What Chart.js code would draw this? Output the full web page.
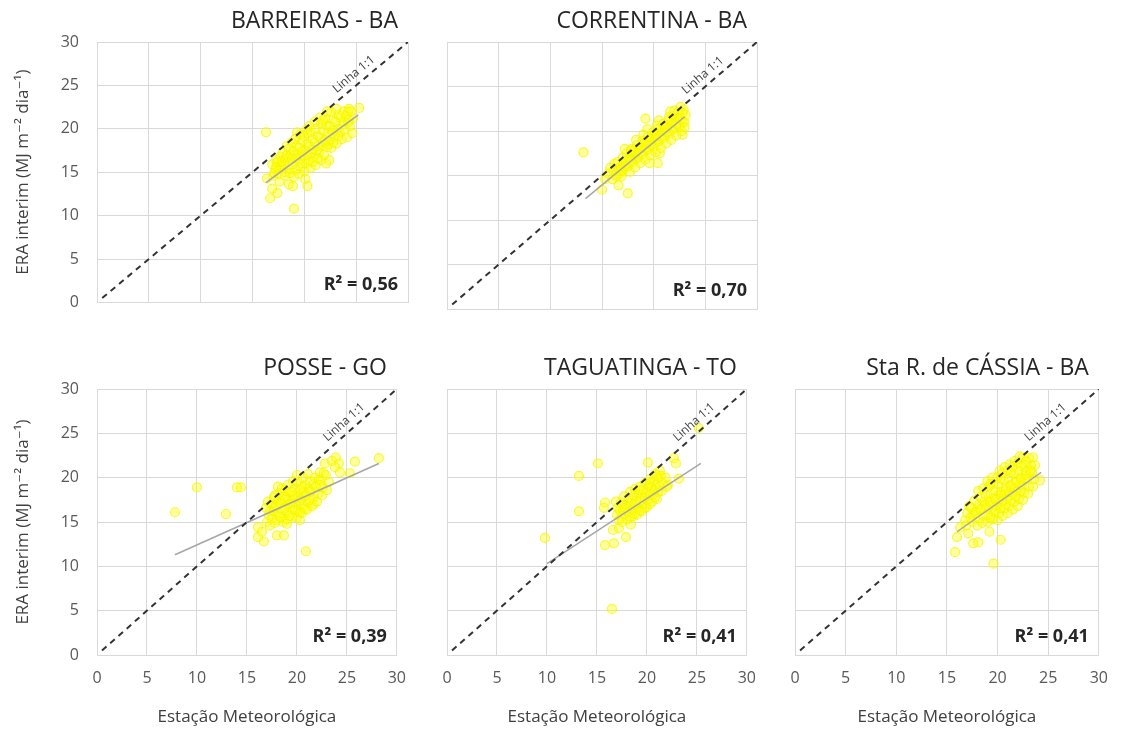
<!DOCTYPE html>
<html>
<head>
<meta charset="utf-8">
<script src="https://cdn.jsdelivr.net/npm/chart.js@4.4.1/dist/chart.umd.min.js"></script>
<style>
  html, body { margin: 0; padding: 0; background: #fff; }
  #wrap { position: relative; width: 1122px; height: 729px; overflow: hidden; background: #fff; }
  #wrap canvas { position: absolute; }
</style>
</head>
<body>
<div id="wrap"></div>
<script>
// estações e R²
var stations = ["BARREIRAS - BA", "CORRENTINA - BA", "POSSE - GO", "TAGUATINGA - TO", "Sta R. de CÁSSIA - BA"];
var r2Labels = ["0,56", "0,70", "0,39", "0,41", "0,41"];
var axisTicks = [0, 5, 10, 15, 20, 25, 30];
var lineOneToOne = [0.5, 30];

// linhas de tendência [x, y] início e fim
var trendBarreiras = [[16.3, 13.8], [25.2, 21.6]];
var trendCorrentina = [[13.4, 12.4], [23.0, 21.6]];
var trendPosse = [[7.8, 11.3], [28.2, 21.6]];
var trendTaguatinga = [[10.0, 10.3], [25.4, 21.6]];
var trendCassia = [[16.0, 13.9], [24.3, 20.6]];

// pontos [estação, ERA interim]
var barreiras = [
  [16.3,19.6],[19.0,10.8],[16.7,12.0],[17.4,12.6],[18.9,13.4],[20.3,13.4],[16.4,14.3],[16.9,13.1],[22.4,16.4],[25.3,22.4],[24.2,22.0],[17.6,13.9],[18.5,13.6],
  [17.0,14.6],[17.2,15.3],[16.9,15.9],[17.3,16.4],[17.1,14.9],
  [17.6,15.4],[17.4,16.1],[17.7,16.8],[17.5,14.8],[17.8,15.7],
  [18.1,15.0],[18.0,15.9],[18.2,16.6],[17.9,17.3],[18.3,18.0],[18.1,14.6],
  [18.6,15.4],[18.4,16.2],[18.7,17.0],[18.5,17.7],[18.8,18.4],[18.6,14.9],
  [19.1,15.2],[18.9,15.9],[19.2,16.6],[19.0,17.4],[19.3,18.1],[19.1,18.8],[19.0,14.5],
  [19.6,15.6],[19.4,16.3],[19.7,17.0],[19.5,17.8],[19.8,18.6],[19.6,19.3],[19.5,14.8],
  [20.1,14.2],[20.0,15.1],[20.2,16.0],[19.9,16.8],[20.1,17.5],[20.3,18.3],[20.0,19.1],[20.2,19.9],
  [20.6,15.5],[20.4,16.3],[20.7,17.2],[20.5,18.0],[20.8,18.8],[20.6,19.6],[20.5,20.3],
  [21.1,15.8],[20.9,16.7],[21.2,17.5],[21.0,18.4],[21.3,19.2],[21.1,20.0],[21.0,20.8],
  [21.6,16.4],[21.4,17.3],[21.7,18.1],[21.5,19.0],[21.8,19.8],[21.6,20.6],[21.5,21.3],
  [22.1,16.0],[21.9,17.0],[22.2,17.9],[22.0,18.7],[22.3,19.6],[22.1,20.4],[22.0,21.2],[22.2,22.0],
  [22.6,17.8],[22.4,18.6],[22.7,19.5],[22.5,20.3],[22.8,21.1],[22.6,21.9],
  [23.1,18.3],[22.9,19.1],[23.2,20.0],[23.0,20.8],[23.3,21.6],[23.1,22.3],
  [23.6,18.8],[23.4,19.6],[23.7,20.5],[23.5,21.3],[23.8,22.0],
  [24.1,19.0],[23.9,19.9],[24.2,20.7],[24.0,21.5],[24.3,22.3],
  [24.6,19.5],[24.4,20.3],[24.7,21.2],[24.5,22.0],
  [17.3,15.6],[17.8,16.2],[18.3,16.9],[18.8,16.6],[19.3,17.0],[19.8,17.4],[19.8,16.0],[20.3,17.0],[20.8,17.6],[20.8,16.2],
  [21.3,18.0],[21.8,18.5],[21.3,16.6],[22.3,18.2],[22.8,19.8],[23.3,19.2],[23.8,20.8],[22.8,18.4],[21.8,21.0],[20.3,19.5],[19.3,19.6],[24.3,21.0]
];

var correntina = [
  [13.2,17.6],[15.0,13.4],[16.6,13.9],[17.5,13.0],[19.6,16.4],[20.4,16.4],[15.3,14.6],[22.8,19.6],[19.2,21.4],[20.6,17.5],
  [15.6,15.2],[15.8,15.9],[16.0,14.6],[16.1,15.5],[16.2,16.3],
  [16.4,14.9],[16.6,15.7],[16.5,16.5],[16.7,15.2],[16.8,16.0],
  [17.0,15.5],[17.1,16.3],[17.0,17.0],[17.2,15.9],[17.3,16.7],[16.9,14.9],[17.2,18.0],
  [17.5,16.0],[17.6,16.8],[17.4,17.5],[17.7,15.4],[17.8,17.2],
  [18.0,16.5],[18.1,17.3],[17.9,18.0],[18.2,15.9],[18.3,16.9],[18.1,17.7],[18.3,19.0],
  [18.5,17.0],[18.6,17.8],[18.4,18.4],[18.7,16.4],[18.8,17.5],
  [19.0,17.4],[19.1,18.2],[18.9,18.9],[19.2,16.8],[19.3,17.9],[19.1,18.6],[19.4,20.2],
  [19.5,17.9],[19.6,18.7],[19.4,19.3],[19.7,17.3],[19.8,18.4],
  [20.0,18.3],[20.1,19.1],[19.9,19.8],[20.2,17.6],[20.3,18.8],[20.1,19.6],[20.5,21.2],
  [20.5,18.8],[20.6,19.6],[20.4,20.2],[20.7,18.1],[20.8,19.2],
  [21.0,19.3],[21.1,20.1],[20.9,20.8],[21.2,18.6],[21.3,19.8],[21.1,20.5],[21.6,22.2],
  [21.5,19.7],[21.6,20.5],[21.4,21.2],[21.7,19.0],[21.8,20.2],
  [22.0,20.2],[22.1,21.0],[21.9,21.7],[22.2,19.5],[22.3,20.7],[22.1,21.4],[22.6,22.7],
  [22.5,20.6],[22.6,21.4],[22.4,22.1],[22.7,20.0],[22.8,21.1],
  [23.0,21.0],[23.1,21.8],[22.9,22.4],[23.0,20.4],
  [16.3,15.1],[16.8,15.6],[17.3,16.1],[17.8,16.6],[18.3,17.6],[18.8,18.1],[19.3,18.6],[19.8,19.1],[20.3,19.5],[20.8,20.0],
  [21.3,20.4],[21.8,21.0],[22.3,21.5],[22.8,22.0],[17.8,17.8],[19.0,19.6],[20.3,20.6],[21.5,21.6],[22.0,22.3]
];

var posse = [
  [7.8,16.1],[10.0,18.9],[14.0,18.9],[14.4,18.9],[12.9,15.9],[20.9,11.7],[28.2,22.2],[25.8,21.8],[25.3,20.5],[24.3,20.6],
  [18.0,13.5],[18.7,13.5],[16.7,12.8],[16.1,13.3],[16.1,14.4],[16.5,13.9],[23.5,21.9],[23.9,22.3],[24.2,21.6],[23.8,21.2],[22.8,21.6],[20.3,15.2],[21.7,17.0],
  [17.0,15.0],[17.2,15.8],[16.9,16.6],[17.1,17.3],[17.3,14.6],
  [17.5,15.4],[17.6,16.2],[17.4,17.0],[17.7,17.8],[17.8,14.9],
  [18.0,15.2],[18.1,16.0],[17.9,16.8],[18.2,17.6],[18.3,18.3],[18.1,19.0],
  [18.5,15.5],[18.6,16.3],[18.4,17.1],[18.7,17.9],[18.8,18.6],[18.6,15.0],
  [19.0,15.3],[19.1,16.1],[18.9,16.9],[19.2,17.6],[19.3,18.4],[19.1,19.2],[19.0,14.8],
  [19.5,15.6],[19.6,16.4],[19.4,17.2],[19.7,18.0],[19.8,18.8],[19.6,19.6],
  [20.0,15.5],[20.1,16.3],[19.9,17.1],[20.2,17.9],[20.3,18.7],[20.1,19.5],[20.0,20.3],
  [20.5,16.0],[20.6,16.8],[20.4,17.6],[20.7,18.4],[20.8,19.2],[20.6,20.0],
  [21.0,16.4],[21.1,17.2],[20.9,18.0],[21.2,18.8],[21.3,19.6],[21.1,20.4],
  [21.5,16.8],[21.6,17.7],[21.4,18.5],[21.7,19.3],[21.8,20.0],
  [22.0,17.3],[22.1,18.2],[21.9,19.0],[22.2,19.8],[22.3,20.6],
  [22.5,18.0],[22.6,18.9],[22.4,19.7],[22.7,20.5],
  [23.0,18.6],[23.2,19.5],[22.9,20.3],
  [17.3,16.2],[17.8,16.6],[18.3,15.6],[18.3,17.1],[18.8,16.6],[18.8,17.5],[19.3,15.7],[19.3,17.0],[19.8,16.3],[19.8,17.6],
  [20.3,16.1],[20.3,17.4],[20.8,16.5],[20.8,17.9],[21.3,17.5],[21.3,18.4],[19.5,18.4],[20.5,19.0],[17.8,18.0],[18.5,18.8],[22.3,19.2]
];

var taguatinga = [
  [9.8,13.2],[13.2,20.2],[15.1,21.6],[13.2,16.2],[16.5,5.2],[15.8,12.4],[16.7,12.6],[16.6,14.1],[17.9,13.3],[15.7,16.6],[15.8,17.2],
  [20.1,21.7],[22.7,22.2],[22.9,21.6],[23.2,19.9],[22.1,19.2],[25.2,25.6],[17.2,14.3],[18.4,14.7],
  [17.0,15.8],[17.1,16.6],[16.9,17.3],[17.2,15.2],
  [17.5,15.6],[17.6,16.4],[17.4,17.2],[17.7,17.9],
  [18.0,15.3],[18.1,16.1],[17.9,16.9],[18.2,17.7],[18.3,18.4],
  [18.5,15.6],[18.6,16.4],[18.4,17.2],[18.7,18.0],[18.8,18.7],
  [19.0,15.8],[19.1,16.6],[18.9,17.4],[19.2,18.2],[19.3,19.0],
  [19.5,16.2],[19.6,17.0],[19.4,17.8],[19.7,18.6],[19.8,19.4],
  [20.0,16.7],[20.1,17.5],[19.9,18.3],[20.2,19.1],[20.3,19.8],
  [20.5,17.3],[20.6,18.1],[20.4,18.9],[20.7,19.7],[20.8,20.4],
  [21.0,17.6],[21.1,18.4],[20.9,19.2],[21.2,20.0],[21.3,20.8],
  [21.5,18.5],[21.6,19.4],[21.4,20.2],
  [22.0,19.0],[21.9,20.0],
  [17.3,16.3],[17.8,16.6],[18.3,16.8],[18.3,15.6],[18.8,17.0],[18.8,15.9],[19.3,16.3],[19.3,17.4],[19.8,17.8],[19.8,16.6],
  [20.3,18.2],[20.3,17.0],[20.8,18.6],[20.8,17.8],[21.3,19.0],[19.3,18.6],[20.3,19.4],[21.0,20.3],[17.5,15.0]
];

var cassia = [
  [16.0,13.3],[15.8,11.6],[17.6,12.6],[18.1,12.7],[20.3,13.0],[19.6,10.3],[24.2,19.7],[16.3,14.4],[17.1,13.7],[19.2,13.9],
  [16.8,15.2],[17.0,16.0],[17.2,16.8],[16.9,14.6],
  [17.5,15.0],[17.6,15.8],[17.4,16.6],[17.7,17.4],
  [18.0,14.6],[18.1,15.4],[17.9,16.2],[18.2,17.0],[18.3,17.8],[18.1,18.5],
  [18.5,14.9],[18.6,15.7],[18.4,16.5],[18.7,17.3],[18.8,18.1],[18.6,18.8],
  [19.0,15.0],[19.1,15.8],[18.9,16.6],[19.2,17.4],[19.3,18.2],[19.1,19.0],[19.0,19.6],
  [19.5,15.3],[19.6,16.1],[19.4,16.9],[19.7,17.7],[19.8,18.5],[19.6,19.3],[19.5,20.0],
  [20.0,15.2],[20.1,16.0],[19.9,16.8],[20.2,17.6],[20.3,18.4],[20.1,19.2],[20.0,20.0],[20.2,20.8],
  [20.5,15.7],[20.6,16.5],[20.4,17.3],[20.7,18.1],[20.8,18.9],[20.6,19.7],[20.5,20.5],[20.7,21.2],
  [21.0,16.0],[21.1,16.8],[20.9,17.6],[21.2,18.4],[21.3,19.2],[21.1,20.0],[21.0,20.8],[21.2,21.5],
  [21.5,16.4],[21.6,17.2],[21.4,18.0],[21.7,18.8],[21.8,19.6],[21.6,20.4],[21.5,21.2],[21.7,21.9],
  [22.0,16.8],[22.1,17.6],[21.9,18.4],[22.2,19.2],[22.3,20.0],[22.1,20.8],[22.0,21.6],[22.2,22.4],
  [22.5,17.5],[22.6,18.3],[22.4,19.1],[22.7,19.9],[22.8,20.7],[22.6,21.5],[22.5,22.3],
  [23.0,18.2],[23.1,19.0],[22.9,19.8],[23.2,20.6],[23.3,21.4],[23.1,22.2],
  [23.5,19.0],[23.6,19.8],[23.4,20.6],[23.7,21.4],[23.5,22.3],
  [17.3,15.5],[17.8,16.0],[18.3,16.4],[18.8,16.9],[19.3,17.2],[19.3,15.5],[19.8,17.5],[19.8,16.3],[20.3,18.0],[20.3,16.6],
  [20.8,18.5],[20.8,17.0],[21.3,19.0],[21.3,17.4],[21.8,19.4],[21.8,17.9],[22.3,19.8],[22.3,18.5],[22.8,20.3],[22.8,21.8],
  [23.3,20.8],[21.3,20.6],[20.3,19.9],[19.3,19.3],[22.3,21.3]
];

var pointSets = [barreiras, correntina, posse, taguatinga, cassia];
var trendSets = [trendBarreiras, trendCorrentina, trendPosse, trendTaguatinga, trendCassia];
var gridPos = [[0, 0], [1, 0], [0, 1], [1, 1], [2, 1]]; // [coluna, linha]

// posição dos canvas na página
var cols = [
  { left: 0, width: 420, yw: 97, padR: 12 },
  { left: 420, width: 350, yw: 27, padR: 13 },
  { left: 770, width: 352, yw: 25, padR: 17 }
];
var rows = [
  { top: 0, height: 330, padT: 42, xh: 21 },
  { top: 340, height: 389, padT: 49, xh: 74 }
];

var fontFam = "'Open Sans', 'DejaVu Sans', sans-serif";

// título, R² e rótulo "Linha 1:1"
var panelText = {
  id: 'panelText',
  afterDraw: function (chart, args, opts) {
    var ctx = chart.ctx, a = chart.chartArea;
    var xs = chart.scales.x, ys = chart.scales.y;
    ctx.save();
    ctx.fillStyle = '#262626';
    ctx.font = "23px " + fontFam;
    ctx.textAlign = 'right';
    ctx.textBaseline = 'middle';
    ctx.fillText(opts.title, a.right - 10, a.top - 21);

    ctx.font = "bold 18px " + fontFam;
    ctx.fillText('R\u00B2 = ' + opts.r2, a.right - 10, a.bottom - 18);

    var x0 = xs.getPixelForValue(0), y0 = ys.getPixelForValue(0);
    var x1 = xs.getPixelForValue(30), y1 = ys.getPixelForValue(30);
    var ang = Math.atan2(y1 - y0, x1 - x0);
    var px = xs.getPixelForValue(25.4), py = ys.getPixelForValue(25.4);
    var off = 10;
    ctx.translate(px + Math.sin(ang) * off, py - Math.cos(ang) * off);
    ctx.rotate(ang);
    ctx.font = "12px " + fontFam;
    ctx.fillStyle = '#404040';
    ctx.textAlign = 'center';
    ctx.fillText('Linha 1:1', 0, 0);
    ctx.restore();
  }
};

var wrap = document.getElementById('wrap');

stations.forEach(function (name, i) {
  var col = cols[gridPos[i][0]], row = rows[gridPos[i][1]];
  var showY = gridPos[i][0] === 0, showX = gridPos[i][1] === 1;

  var cv = document.createElement('canvas');
  cv.width = col.width;
  cv.height = row.height;
  cv.style.left = col.left + 'px';
  cv.style.top = row.top + 'px';
  wrap.appendChild(cv);

  new Chart(cv.getContext('2d'), {
    type: 'scatter',
    data: {
      datasets: [
        {
          data: lineOneToOne.map(function (v) { return { x: v, y: v }; }),
          showLine: true, borderColor: '#333333', borderWidth: 2, borderDash: [6, 5],
          pointRadius: 0, order: 0
        },
        {
          data: trendSets[i].map(function (p) { return { x: p[0], y: p[1] }; }),
          showLine: true, borderColor: '#a6a6a6', borderWidth: 1.5,
          pointRadius: 0, order: 1
        },
        {
          data: pointSets[i].map(function (p) { return { x: p[0], y: p[1] }; }),
          pointRadius: 4.5, borderWidth: 1.2,
          backgroundColor: 'rgba(255,255,0,0.38)',
          borderColor: 'rgba(245,245,0,0.75)',
          order: 2
        }
      ]
    },
    options: {
      responsive: false,
      animation: false,
      layout: { padding: { left: 0, right: col.padR, top: row.padT, bottom: 0 } },
      plugins: {
        legend: { display: false },
        tooltip: { enabled: false },
        panelText: { title: name, r2: r2Labels[i] }
      },
      scales: {
        x: {
          min: axisTicks[0], max: axisTicks[axisTicks.length - 1],
          afterBuildTicks: function (s) { s.ticks = axisTicks.map(function (v) { return { value: v }; }); },
          afterFit: function (s) { s.height = row.xh; },
          grid: { color: '#d9d9d9', drawTicks: false },
          border: { color: '#d9d9d9' },
          ticks: { display: showX, padding: 14, color: '#595959', font: { family: fontFam, size: 16 } },
          title: { display: showX, text: 'Estação Meteorológica', color: '#404040', padding: { top: 0, bottom: 2 }, font: { family: fontFam, size: 17 } }
        },
        y: {
          min: axisTicks[0], max: axisTicks[axisTicks.length - 1],
          afterBuildTicks: function (s) { s.ticks = axisTicks.map(function (v) { return { value: v }; }); },
          afterFit: function (s) { s.width = col.yw; },
          grid: { color: '#d9d9d9', drawTicks: false },
          border: { color: '#d9d9d9' },
          ticks: { display: showY, padding: 18, color: '#595959', font: { family: fontFam, size: 16 } },
          title: { display: showY, text: 'ERA interim (MJ m\u207B\u00B2 dia\u207B\u00B9)', color: '#404040', padding: { top: 13, bottom: 0 }, font: { family: fontFam, size: 17 } }
        }
      }
    },
    plugins: [panelText]
  });
});
</script>
</body>
</html>
